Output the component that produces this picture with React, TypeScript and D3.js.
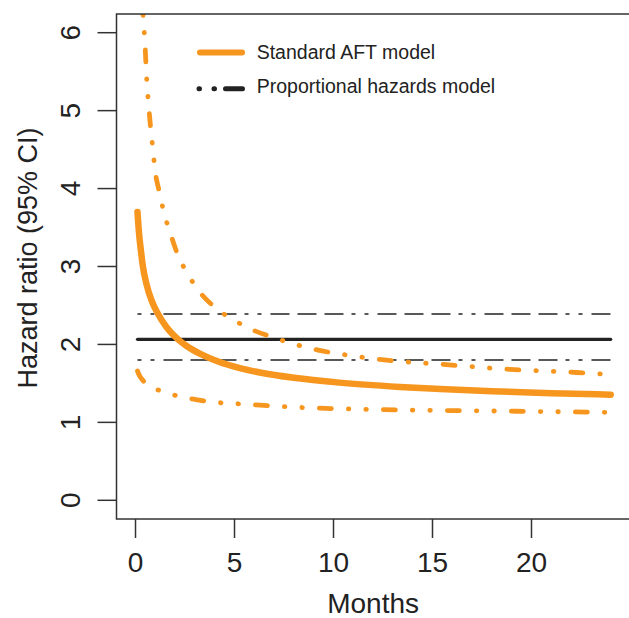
import React from 'react';
import * as d3 from 'd3';

// Standard AFT model: hazard ratio over time
const aftMonths = [0.1, 0.18, 0.27, 0.38, 0.55, 0.81, 1.14, 1.57, 2.15, 2.58, 3.3, 4.17, 5.27, 6.28, 8, 10.3, 13.35, 15.4, 18, 21, 24];
const aftHR = [3.70, 3.42, 3.21, 2.99, 2.78, 2.565, 2.39, 2.22, 2.065, 1.98, 1.875, 1.78, 1.695, 1.64, 1.572, 1.51, 1.455, 1.427, 1.40, 1.375, 1.355];

// Upper 95% CI of AFT model
const upperMonths = [0.3, 0.38, 0.47, 0.57, 0.66, 0.76, 0.86, 0.99, 1.21, 1.39, 1.82, 2.15, 2.58, 3.25, 4.09, 4.85, 5.8, 6.95, 9.0, 11.16, 13.5, 15.2, 18.9, 22.27, 24];
const upperHR = [6.6, 6.23, 5.90, 5.38, 5.08, 4.79, 4.55, 4.23, 3.95, 3.74, 3.38, 3.14, 2.93, 2.67, 2.46, 2.33, 2.20, 2.09, 1.94, 1.846, 1.78, 1.75, 1.68, 1.64, 1.615];

// Lower 95% CI of AFT model
const lowerMonths = [0.1, 0.16, 0.4, 0.72, 1.1, 1.48, 2.24, 3.0, 3.92, 5.1, 6.28, 8.46, 11.67, 15.03, 18.4, 21, 24];
const lowerHR = [1.66, 1.62, 1.53, 1.47, 1.42, 1.39, 1.33, 1.295, 1.26, 1.24, 1.22, 1.19, 1.167, 1.154, 1.145, 1.137, 1.128];

// Proportional hazards model (constant over time)
const phMonths = [0.1, 24];
const phHR = 2.065;
const phLower = 1.80;
const phUpper = 2.39;

const xTicks = [0, 5, 10, 15, 20];
const yTicks = [0, 1, 2, 3, 4, 5, 6];
const legendLabels = ['Standard AFT model', 'Proportional hazards model'];

const W = 629;
const H = 618;
const plot = { left: 116.5, right: 629.7, top: 14, bottom: 519 };
const ORANGE = '#F7961E';
const INK = '#222';
const FONT = '"Liberation Sans", Arial, sans-serif';

const App = () => {
  const x = d3.scaleLinear().domain([-0.96, 24.96]).range([plot.left, plot.right]);
  const y = d3.scaleLinear().domain([-0.24, 6.24]).range([plot.bottom, plot.top]);

  const line = d3.line<[number, number]>()
    .x(d => x(d[0]))
    .y(d => y(d[1]))
    .curve(d3.curveMonotoneX);

  const zip = (ts: number[], vs: number[]) => ts.map((t, i) => [t, vs[i]] as [number, number]);
  const aftPath = line(zip(aftMonths, aftHR)) || '';
  const upperPath = line(zip(upperMonths, upperHR)) || '';
  const lowerPath = line(zip(lowerMonths, lowerHR)) || '';

  const ciDash = '12 17 0.5 17 0.5 17';
  const phDash = '4 9 4 9 19 8 19 8 19 8';

  return (
    <svg width={W} height={H} style={{ position: 'absolute', left: 0, top: 0, background: '#fff' }} fontFamily={FONT}>
      <defs>
        <clipPath id="plotClip">
          <rect x={plot.left} y={plot.top} width={plot.right - plot.left} height={plot.bottom - plot.top} />
        </clipPath>
      </defs>

      <g clipPath="url(#plotClip)">
        {/* Proportional hazards model */}
        <line x1={x(phMonths[0])} x2={x(phMonths[1])} y1={y(phUpper)} y2={y(phUpper)}
          stroke={INK} strokeWidth={1.6} strokeDasharray={phDash} />
        <line x1={x(phMonths[0])} x2={x(phMonths[1])} y1={y(phLower)} y2={y(phLower)}
          stroke={INK} strokeWidth={1.6} strokeDasharray={phDash} />
        <line x1={x(phMonths[0])} x2={x(phMonths[1])} y1={y(phHR)} y2={y(phHR)}
          stroke={INK} strokeWidth={3.2} strokeLinecap="round" />

        {/* AFT model */}
        <path d={upperPath} fill="none" stroke={ORANGE} strokeWidth={4.8} strokeLinecap="round" strokeDasharray={ciDash} />
        <path d={lowerPath} fill="none" stroke={ORANGE} strokeWidth={4.8} strokeLinecap="round" strokeDasharray={ciDash} />
        <path d={aftPath} fill="none" stroke={ORANGE} strokeWidth={6.5} strokeLinecap="round" />
      </g>

      {/* Box */}
      <rect x={plot.left} y={plot.top} width={plot.right - plot.left + 5} height={plot.bottom - plot.top}
        fill="none" stroke="#333" strokeWidth={1.5} />

      {/* X axis */}
      {xTicks.map(t => (
        <g key={`x-${t}`}>
          <line x1={x(t)} x2={x(t)} y1={plot.bottom} y2={plot.bottom + 19} stroke="#333" strokeWidth={1.5} />
          <text x={x(t)} y={572} textAnchor="middle" fontSize={28} fill={INK}>{t}</text>
        </g>
      ))}
      <text x={(plot.left + plot.right) / 2} y={613} textAnchor="middle" fontSize={28} fill={INK}>Months</text>

      {/* Y axis */}
      {yTicks.map(t => (
        <g key={`y-${t}`}>
          <line x1={plot.left - 19} x2={plot.left} y1={y(t)} y2={y(t)} stroke="#333" strokeWidth={1.5} />
          <text transform={`translate(80, ${y(t)}) rotate(-90)`} textAnchor="middle" fontSize={28} fill={INK}>{t}</text>
        </g>
      ))}
      <text transform={`translate(37.3, 258) rotate(-90)`} textAnchor="middle" fontSize={27} fill={INK}>
        Hazard ratio (95% CI)
      </text>

      {/* Legend */}
      <line x1={200} x2={242} y1={52.5} y2={52.5} stroke={ORANGE} strokeWidth={6} strokeLinecap="round" />
      <text x={256.7} y={59.3} fontSize={19.5} fill={INK}>{legendLabels[0]}</text>
      <line x1={199} x2={242.5} y1={88.8} y2={88.8} stroke={INK} strokeWidth={5} strokeLinecap="round"
        strokeDasharray="0.5 14.5 0.5 11 17 100" />
      <text x={256.7} y={93.3} fontSize={19.5} fill={INK}>{legendLabels[1]}</text>
    </svg>
  );
};

export default App;
